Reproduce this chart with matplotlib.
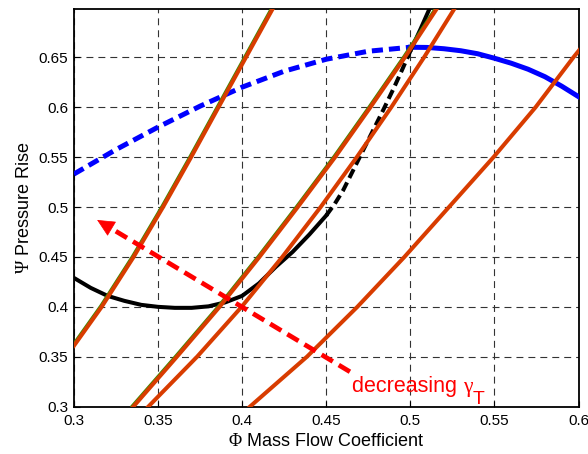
import matplotlib
matplotlib.use("Agg")
import matplotlib.pyplot as plt
import matplotlib.transforms as mtransforms
import numpy as np

plt.rcParams['font.family'] = ['Liberation Sans', 'DejaVu Sans']
plt.rcParams['mathtext.fontset'] = 'custom'
plt.rcParams['mathtext.rm'] = 'Liberation Serif'
plt.rcParams['lines.scale_dashes'] = False

# Compressor characteristic (blue): unstable branch dashed, stable branch solid
phi_comp_dash = [0.300, 0.325, 0.350, 0.375, 0.400, 0.425, 0.450, 0.475, 0.500]
psi_comp_dash = [0.533, 0.5575, 0.580, 0.601, 0.620, 0.636, 0.648, 0.656, 0.660]
phi_comp_solid = [0.500, 0.510, 0.520, 0.530, 0.540, 0.550, 0.560, 0.570,
                  0.580, 0.590, 0.600]
psi_comp_solid = [0.660, 0.6598, 0.6585, 0.6565, 0.6535, 0.649, 0.644,
                  0.638, 0.6305, 0.621, 0.6105]

# Black characteristic: solid / dashed / solid segments
phi_blk_a = [0.300, 0.310, 0.320, 0.330, 0.340, 0.350, 0.360, 0.370, 0.380,
             0.390, 0.400, 0.410, 0.420, 0.430, 0.440, 0.450]
psi_blk_a = [0.429, 0.419, 0.411, 0.406, 0.402, 0.400, 0.399, 0.399, 0.4005,
             0.4045, 0.411, 0.4235, 0.440, 0.455, 0.4725, 0.4915]
phi_blk_b = [0.450, 0.455, 0.460, 0.468, 0.476, 0.484, 0.490, 0.495, 0.5005]
psi_blk_b = [0.4915, 0.503, 0.5165, 0.5435, 0.5705, 0.5975, 0.6185, 0.637, 0.658]
phi_blk_c = [0.5005, 0.506, 0.511]
psi_blk_c = [0.658, 0.678, 0.697]

# Throttle lines for several gamma_T values
phi_thr1 = [0.300, 0.3165, 0.3355, 0.353, 0.3697, 0.386, 0.4023, 0.418]
psi_thr1 = [0.361, 0.400, 0.450, 0.500, 0.550, 0.600, 0.650, 0.698]
phi_thr2 = [0.3353, 0.3612, 0.3866, 0.4103, 0.4331, 0.4553, 0.4763, 0.4968, 0.5155]
psi_thr2 = [0.300, 0.350, 0.400, 0.450, 0.500, 0.550, 0.600, 0.650, 0.698]
phi_thr3 = [0.3442, 0.3732, 0.3997, 0.4239, 0.4467, 0.4682, 0.4887, 0.5082, 0.5260]
psi_thr3 = [0.300, 0.350, 0.400, 0.450, 0.500, 0.550, 0.600, 0.650, 0.698]
phi_thr4 = [0.4046, 0.4385, 0.4685, 0.4965, 0.5230, 0.5495, 0.5745, 0.5970, 0.6006]
psi_thr4 = [0.300, 0.350, 0.400, 0.450, 0.500, 0.550, 0.600, 0.650, 0.6575]

# Arrow (tail -> tip) and its caption
arrow_tail = (0.4641, 0.335)
arrow_tip = (0.3138, 0.487)
caption_pos = (0.4652, 0.315)

xticks = [0.3, 0.35, 0.4, 0.45, 0.5, 0.55, 0.6]
xticklabels = ['0.3', '0.35', '0.4', '0.45', '0.5', '0.55', '0.6']
yticks = [0.3, 0.35, 0.4, 0.45, 0.5, 0.55, 0.6, 0.65]
yticklabels = ['0.3', '0.35', '0.4', '0.45', '0.5', '0.55', '0.6', '0.65']

RED = '#d83c00'
GREEN = '#3f8a00'

fig = plt.figure(figsize=(5.88, 4.54), dpi=100)
ax = fig.add_axes([0.1257, 0.1042, 0.8582, 0.8753])
ax.set_xlim(0.3, 0.6)
ax.set_ylim(0.3, 0.698)

ax.set_xticks(xticks)
ax.set_xticklabels(xticklabels)
ax.set_yticks(yticks)
ax.set_yticklabels(yticklabels)
ax.tick_params(direction='in', length=4, labelsize=11, pad=5)
ax.tick_params(axis='y', pad=4)
for s in ax.spines.values():
    s.set_linewidth(1.3)

ax.grid(True, color='#333333', linewidth=0.8, linestyle=(0, (5, 3.6)))
ax.set_axisbelow(True)

# blue compressor characteristic
ax.plot(phi_comp_dash, psi_comp_dash, color='#0000ff', lw=3.6,
        linestyle=(0, (8, 4.3)), zorder=3)
ax.plot(phi_comp_solid, psi_comp_solid, color='#0000ff', lw=3.6, zorder=3)

# black characteristic
ax.plot(phi_blk_a, psi_blk_a, color='black', lw=2.9, zorder=3)
ax.plot(phi_blk_b, psi_blk_b, color='black', lw=2.9,
        linestyle=(0, (7, 3.6)), zorder=3)
ax.plot(phi_blk_c, psi_blk_c, color='black', lw=2.9, zorder=3)

# throttle lines (two of them carry a thin green edge)
edge_trans = mtransforms.offset_copy(ax.transData, fig=fig, x=-0.45, y=0.45,
                                     units='points')
for px, py, edge in [(phi_thr1, psi_thr1, True), (phi_thr2, psi_thr2, True),
                     (phi_thr3, psi_thr3, False), (phi_thr4, psi_thr4, False)]:
    if edge:
        ax.plot(px, py, color=GREEN, lw=2.8, zorder=4, transform=edge_trans)
    ax.plot(px, py, color=RED, lw=2.9, zorder=5)

# dashed arrow with filled head
fig.canvas.draw()
to_disp = ax.transData
tip_d = np.array(to_disp.transform(arrow_tip))
tail_d = np.array(to_disp.transform(arrow_tail))
u = (tail_d - tip_d) / np.linalg.norm(tail_d - tip_d)
head_len = 15.0
base = to_disp.inverted().transform(tip_d + u * head_len)
ax.plot([arrow_tail[0], base[0]], [arrow_tail[1], base[1]], color='#ff0000',
        lw=3.4, linestyle=(0, (9.4, 5)), zorder=6)
ax.annotate('', xy=arrow_tip, xytext=tuple(base),
            arrowprops=dict(arrowstyle='-|>,head_length=11.5,head_width=5.5',
                            mutation_scale=1, color='#ff0000', lw=0.5,
                            shrinkA=0, shrinkB=0), zorder=6)

t1 = ax.text(caption_pos[0], caption_pos[1], 'decreasing ', color='#ff0000',
             fontsize=15.5, va='baseline', ha='left', zorder=7)
t2 = ax.annotate('\u03b3', xy=(1, 0), xycoords=t1, xytext=(0, 0),
                 textcoords='offset points', color='#ff0000', fontsize=15.5,
                 family='Liberation Serif', va='bottom', ha='left', zorder=7)
ax.annotate('T', xy=(1, 0), xycoords=t2, xytext=(0.5, -5),
            textcoords='offset points', color='#ff0000', fontsize=14,
            va='baseline', ha='left', zorder=7)

ax.set_xlabel(r'$\Phi$ Mass Flow Coefficient', fontsize=13, labelpad=4)
ax.set_ylabel(r'$\Psi$ Pressure Rise', fontsize=13, labelpad=4)

fig.savefig('out.png', dpi=100)
